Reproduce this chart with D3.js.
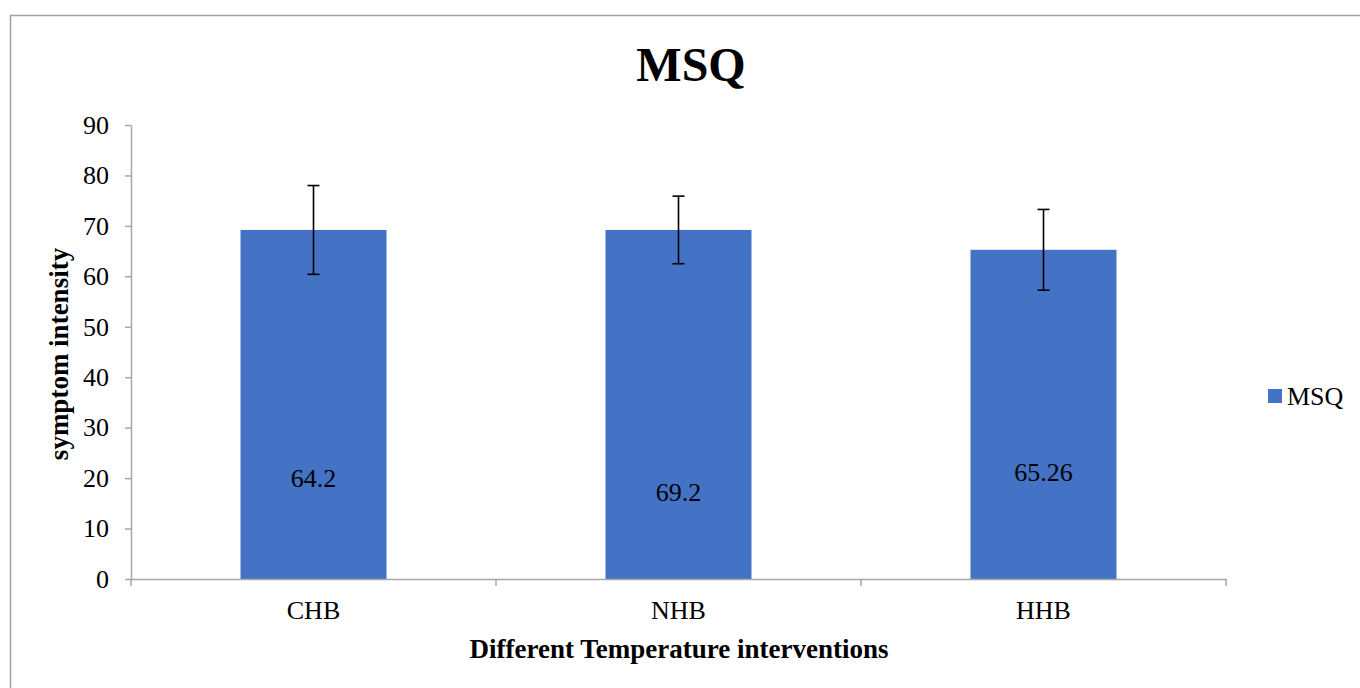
<!DOCTYPE html>
<html>
<head>
<meta charset="utf-8">
<script src="https://cdn.jsdelivr.net/npm/d3@7"></script>
<style>
  html, body { margin: 0; padding: 0; background: #fff; }
  svg { display: block; }
  text { font-family: "Liberation Serif", "Times New Roman", serif; fill: #000; }
</style>
</head>
<body>
<svg id="chart" width="1360" height="688"></svg>
<script>
// ---- data ----
const categories = ["CHB", "NHB", "HHB"];
const values = [69.2, 69.2, 65.26];          // bar heights as drawn
const errors = [8.8, 6.7, 8.0];              // +/- error
const dataLabels = ["64.2", "69.2", "65.26"]; // labels printed on bars
const labelAt = [20, 17.2, 21.2];             // label vertical anchor (value units)
const yTicks = [0, 10, 20, 30, 40, 50, 60, 70, 80, 90];
const seriesName = "MSQ";
const chartTitle = "MSQ";
const xTitle = "Different Temperature interventions";
const yTitle = "symptom intensity";

(function () {
// ---- layout ----
const svg = d3.select("#chart");
const pLeft = 131, pRight = 1226, pTop = 125, pBottom = 579;
const barColor = "#4472C4";
const axisColor = "#a6a6a6";

// border
svg.append("rect").attr("x", 10.5).attr("y", 15.5).attr("width", 1400).attr("height", 700)
  .attr("fill", "none").attr("stroke", "#a0a0a0").attr("stroke-width", 1.5);

const x = d3.scaleBand().domain(categories).range([pLeft, pRight]).padding(0);
const y = d3.scaleLinear().domain([0, 90]).range([pBottom, pTop]);

// title
svg.append("text").attr("x", 691).attr("y", 81).attr("text-anchor", "middle")
  .attr("font-size", 48).attr("font-weight", "bold").text(chartTitle);

// y axis
const yAxis = svg.append("g").attr("transform", `translate(${pLeft},0)`)
  .call(d3.axisLeft(y).tickValues(yTicks).tickSize(6).tickPadding(16).tickSizeOuter(0));
yAxis.select(".domain").attr("stroke", axisColor).attr("stroke-width", 1.5);
yAxis.selectAll(".tick line").attr("stroke", axisColor).attr("stroke-width", 1.5);
yAxis.selectAll(".tick text").attr("font-size", 26).attr("font-family", "Liberation Serif").attr("fill", "#000");

// bars
const bw = x.bandwidth() / 2.5;
const cx = d => x(d) + x.bandwidth() / 2;
svg.append("g").selectAll("rect").data(categories).join("rect")
  .attr("x", d => cx(d) - bw / 2)
  .attr("y", (d, i) => y(values[i]))
  .attr("width", bw)
  .attr("height", (d, i) => y(0) - y(values[i]))
  .attr("fill", barColor);

// x axis
const xAxis = svg.append("g").attr("transform", `translate(0,${pBottom})`)
  .call(d3.axisBottom(x).tickSize(0).tickPadding(22).tickSizeOuter(0));
xAxis.select(".domain").attr("stroke", axisColor).attr("stroke-width", 1.5);
xAxis.selectAll(".tick text").attr("font-size", 26).attr("font-family", "Liberation Serif").attr("fill", "#000");
const edges = categories.map(d => x(d)).concat([x(categories[categories.length - 1]) + x.bandwidth()]);
svg.append("g").selectAll("line").data(edges).join("line")
  .attr("x1", d => d).attr("x2", d => d)
  .attr("y1", pBottom).attr("y2", pBottom + 7)
  .attr("stroke", axisColor).attr("stroke-width", 1.5);

// error bars
const eb = svg.append("g").attr("stroke", "#000").attr("stroke-width", 1.6);
categories.forEach((d, i) => {
  const c = cx(d);
  const hi = y(values[i] + errors[i]), lo = y(values[i] - errors[i]);
  eb.append("line").attr("x1", c).attr("x2", c).attr("y1", hi).attr("y2", lo);
  eb.append("line").attr("x1", c - 6).attr("x2", c + 6).attr("y1", hi).attr("y2", hi);
  eb.append("line").attr("x1", c - 6).attr("x2", c + 6).attr("y1", lo).attr("y2", lo);
});

// data labels
svg.append("g").selectAll("text").data(categories).join("text")
  .attr("x", d => cx(d))
  .attr("y", (d, i) => y(labelAt[i]))
  .attr("dy", "0.33em")
  .attr("text-anchor", "middle").attr("font-size", 26)
  .text((d, i) => dataLabels[i]);

// axis titles
svg.append("text").attr("x", 679).attr("y", 658).attr("text-anchor", "middle")
  .attr("font-size", 27).attr("font-weight", "bold").text(xTitle);
svg.append("text").attr("transform", `translate(68,${354}) rotate(-90)`)
  .attr("text-anchor", "middle").attr("font-size", 27).attr("font-weight", "bold").text(yTitle);

// legend
svg.append("rect").attr("x", 1268).attr("y", 389).attr("width", 14).attr("height", 14).attr("fill", barColor);
svg.append("text").attr("x", 1287).attr("y", 405).attr("font-size", 26).text(seriesName);
})();
</script>
</body>
</html>
